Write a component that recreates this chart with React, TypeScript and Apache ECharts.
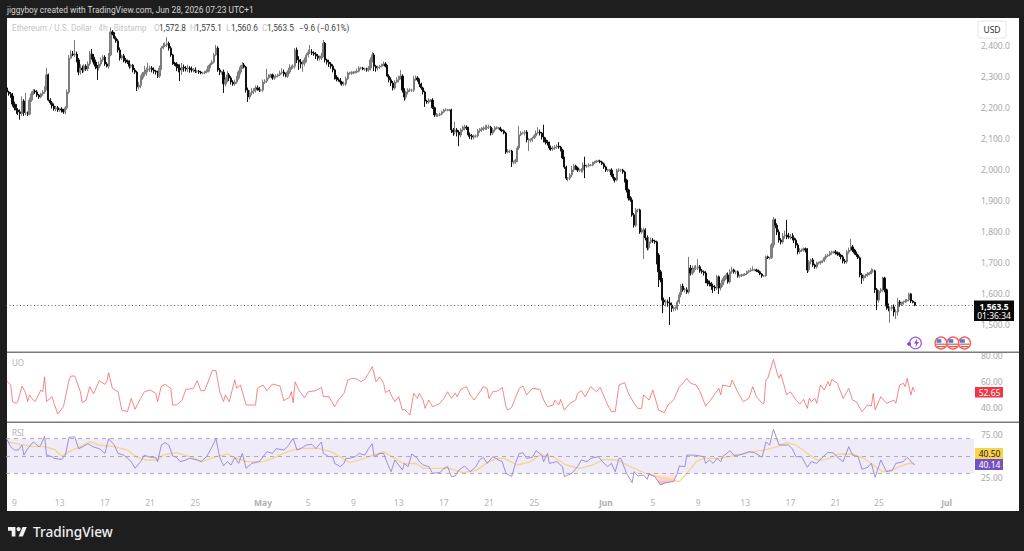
import React, { useEffect, useRef } from "react";
import * as echarts from "echarts";

const closes = [
2249,2243,2236,2210,2198,2191,2185,2180,2220,2182,2182,2178,2223,2243,2252,2249,2239,2233,2243,2249,
2262,2304,2223,2214,2204,2195,2198,2191,2194,2191,2185,2198,2249,2358,2371,2368,2371,2352,2313,2326,
2320,2332,2323,2339,2371,2361,2345,2332,2326,2339,2352,2361,2339,2332,2368,2442,2435,2422,2413,2384,
2358,2365,2352,2349,2345,2332,2335,2320,2313,2265,2271,2294,2307,2313,2320,2323,2326,2320,2316,2313,
2300,2326,2390,2397,2400,2405,2390,2368,2342,2339,2332,2326,2320,2329,2326,2323,2326,2323,2320,2320,
2316,2316,2313,2310,2310,2313,2316,2332,2339,2345,2368,2390,2320,2313,2313,2275,2288,2304,2294,2281,
2275,2281,2294,2313,2329,2336,2329,2255,2233,2246,2252,2255,2262,2259,2255,2255,2281,2284,2294,2300,
2304,2294,2297,2300,2304,2310,2313,2307,2300,2313,2326,2329,2332,2384,2352,2345,2339,2342,2352,2368,
2377,2377,2374,2371,2365,2358,2358,2365,2406,2352,2345,2339,2332,2320,2297,2291,2288,2281,2275,2275,
2291,2310,2310,2310,2313,2313,2316,2326,2326,2323,2323,2320,2326,2352,2368,2332,2326,2329,2332,2336,
2339,2332,2300,2288,2278,2262,2281,2288,2297,2300,2255,2233,2249,2255,2255,2255,2291,2294,2288,2275,
2262,2249,2220,2217,2223,2223,2198,2175,2175,2175,2178,2185,2191,2191,2191,2191,2127,2120,2127,2120,
2111,2127,2133,2136,2133,2111,2108,2104,2108,2108,2124,2127,2130,2133,2133,2136,2136,2117,2127,2133,
2133,2133,2127,2124,2117,2056,2059,2059,2024,2024,2030,2069,2111,2117,2117,2120,2095,2095,2095,2101,
2108,2117,2120,2117,2104,2095,2088,2085,2069,2066,2069,2072,2075,2072,2062,2037,2008,1972,1972,1982,
1998,2011,2005,1998,1998,1998,2014,2011,2011,2014,2014,2021,2024,2027,2027,2024,2018,2008,1998,1998,
1998,1982,1972,1966,1998,1998,1998,1992,1966,1934,1908,1902,1854,1821,1870,1870,1799,1805,1805,1780,
1748,1767,1773,1770,1767,1725,1671,1645,1580,1574,1574,1571,1564,1554,1554,1554,1574,1597,1625,1613,
1613,1606,1683,1667,1677,1683,1683,1687,1674,1671,1667,1642,1635,1632,1625,1622,1619,1655,1619,1629,
1645,1655,1661,1639,1671,1677,1671,1671,1658,1658,1661,1661,1664,1671,1674,1677,1677,1677,1674,1671,
1664,1658,1658,1719,1716,1716,1757,1838,1821,1799,1773,1767,1786,1789,1786,1783,1783,1780,1773,1757,
1735,1741,1741,1745,1741,1677,1703,1709,1693,1687,1700,1700,1703,1706,1716,1722,1725,1732,1735,1735,
1732,1728,1725,1719,1706,1703,1735,1741,1751,1741,1732,1725,1716,1661,1651,1658,1661,1664,1667,1674,
1674,1613,1580,1609,1613,1651,1613,1561,1554,1554,1558,1542,1542,1574,1567,1571,1574,1577,1580,1600,
1577,1572.8,1563.5,
];

const firstOpen = 2262;

const upperWicks = [
6,4,6,10,8,12,6,8,15,6,64,4,8,8,6,6,6,4,4,6,
6,22,4,6,6,8,6,6,4,6,4,6,8,10,12,10,45,8,6,12,
8,6,6,8,10,16,10,8,4,8,8,6,6,6,6,14,6,6,6,6,
8,4,6,6,4,6,4,4,6,4,10,8,6,20,8,20,8,6,8,4,
4,8,6,10,8,20,6,6,4,4,6,6,12,14,8,6,10,6,8,6,
8,4,4,4,4,4,6,4,4,6,6,10,6,6,4,8,8,12,6,6,
6,8,6,6,6,9,6,4,8,8,10,6,8,8,6,4,8,6,30,6,
4,4,4,6,4,8,12,8,4,6,12,6,6,6,8,12,10,8,8,6,
8,23,10,6,6,6,8,10,10,4,4,8,6,6,4,6,4,6,4,8,
8,4,4,6,4,4,8,6,4,4,4,4,6,8,9,6,4,4,4,4,
8,6,4,6,8,6,6,8,4,20,6,6,4,6,6,4,10,8,6,4,
4,4,4,4,6,4,6,4,6,4,4,4,4,6,4,4,4,6,26,6,
6,6,8,8,6,4,8,6,4,4,6,6,6,6,10,8,8,4,6,6,
6,4,4,4,4,4,6,4,4,4,4,6,29,6,4,6,6,6,4,4,
6,8,16,8,4,40,8,6,4,8,6,6,6,13,4,4,4,4,4,6,
13,6,4,4,4,6,8,27,4,6,4,4,4,4,4,4,4,4,4,4,
4,6,4,4,4,6,4,4,4,4,4,6,8,6,6,4,4,6,8,6,
8,16,8,6,4,4,6,6,6,8,8,8,19,8,6,6,6,8,6,8,
6,8,36,10,14,8,10,25,6,6,4,6,6,8,6,8,6,6,4,6,
6,4,6,8,8,10,4,4,4,4,4,4,3,4,4,6,12,4,4,4,
4,3,3,4,4,3,6,9,4,6,8,6,10,14,49,10,10,12,8,6,
6,6,4,4,4,6,6,4,6,4,4,4,4,4,4,6,4,6,4,4,
6,4,6,4,6,6,6,8,26,6,4,4,4,4,6,4,4,6,4,8,
6,4,6,4,6,4,4,4,8,6,6,8,8,13,6,4,4,6,4,4,
3,3,2.3,
];

const lowerWicks = [
4,6,6,8,8,12,10,20,8,10,8,6,4,6,4,6,6,6,4,6,
6,8,4,6,8,6,8,6,6,8,6,8,6,6,4,4,6,8,10,8,
10,8,6,6,6,8,8,10,38,8,8,6,6,4,8,4,4,4,6,8,
8,6,8,8,6,8,6,8,6,13,8,10,6,8,12,8,10,8,8,8,
6,6,6,4,4,6,8,6,6,6,16,14,36,16,12,8,10,12,8,8,
6,6,6,4,4,4,4,4,6,4,4,4,6,10,8,29,8,8,10,8,
6,6,6,6,8,6,4,8,16,8,8,10,8,6,6,4,6,6,6,4,
4,6,6,4,4,4,4,8,4,6,6,6,6,8,10,25,14,25,10,8,
8,6,6,6,10,8,8,6,4,8,8,10,8,8,8,8,6,8,6,6,
6,4,6,6,4,4,4,4,4,4,6,6,6,8,8,16,12,8,6,4,
4,4,4,8,10,8,6,4,8,8,8,12,8,8,6,6,6,6,6,10,
6,8,19,6,6,6,4,6,6,6,4,4,4,4,4,4,10,12,8,14,
36,8,6,8,6,6,10,8,8,6,6,6,6,6,6,6,6,8,6,6,
4,4,4,4,4,6,4,6,16,8,6,6,6,4,4,8,8,36,8,6,
4,6,4,8,8,8,8,8,6,6,6,6,6,6,4,4,6,6,10,6,
6,6,6,6,6,8,8,39,6,4,4,4,3,3,3,4,4,6,6,6,
6,6,8,8,4,6,6,6,8,8,8,6,6,8,6,8,6,6,93,8,
8,6,6,6,6,30,49,8,42,10,14,12,64,12,10,8,6,6,8,6,
8,6,6,8,6,6,6,6,6,6,8,8,10,8,12,19,10,6,19,8,
6,6,8,6,6,6,6,8,6,6,4,4,3,3,4,4,4,4,4,4,
4,6,4,3,4,6,4,8,10,10,8,8,6,8,10,6,8,8,10,10,
8,6,6,6,8,10,6,8,6,6,6,6,6,4,4,6,4,4,6,6,
6,6,6,8,8,6,6,6,4,6,6,6,4,8,19,10,6,6,4,4,
6,10,32,8,6,6,8,12,10,47,8,14,23,12,8,6,6,4,4,4,
6,3,2.9,
];

const uoPoints = [
[0,60.7],[2,57.7],[3,44.9],[5,43.6],[6,46.1],[8,56.9],[10,51.3],[11,44.9],[12,50],[14,46],[15,45],[18,53.8],[19,52.5],[20,64],[21,45],[24,48.7],[25,43.6],[27,35.4],[30,41],[33,61.5],[34,64.6],[36,64.6],[39,52.5],[40,44],[42,46],[44,56.4],[46,50.8],[49,61],[52,58.2],[53,60.2],[54,67.2],[56,55.1],[59,52.5],[61,38.4],[64,37.2],[66,47.4],[68,39],[71,47.4],[73,52.5],[76,53.8],[79,51.3],[80,44.9],[82,56.9],[84,58.2],[87,55.1],[88,42.3],[90,42.3],[93,46.1],[95,54.3],[99,55.1],[101,61],[103,53.3],[105,53.3],[109,68.7],[111,68.7],[113,52.5],[115,44.9],[116,50],[118,44.9],[121,61.5],[122,55.1],[124,57.7],[127,42.3],[132,42.3],[133,55.1],[136,57.7],[138,53.3],[141,58.4],[145,56.9],[147,45.6],[150,48.2],[151,52.5],[152,44],[153,60.2],[155,53.8],[158,47.9],[160,52.5],[164,53.3],[167,55.9],[168,48.7],[171,48.7],[174,41],[176,46.1],
[179,51.3],[181,61.5],[183,62.8],[186,62.3],[188,60.2],[190,62],[192,66.6],[194,71.8],[196,60.2],[198,64],[200,59],[201,51.8],[203,53.8],[204,50],[206,44.9],[208,48.7],[210,38.4],[211,39],[214,34.6],[216,51.3],[218,47.4],[219,51.3],[221,46.1],[222,39.7],[224,46.1],[226,41],[230,43.6],[232,47.4],[234,52.5],[236,47.4],[238,51.3],[239,48.7],[241,54.3],[244,56.4],[246,50],[248,46.1],[250,50],[253,56.4],[255,55.1],[256,47.4],[258,52.5],[261,53.3],[263,55.9],[265,41],[266,38.4],[268,40.5],[272,55.1],[274,56.9],[276,50],[279,55.1],[283,54.3],[285,46.1],[287,41],[290,42.3],[291,46.1],[293,42.3],[294,46.6],[296,38.4],[299,43.6],[302,46.1],[303,51.3],[305,53.3],[307,48.7],[310,56.4],[313,52.5],[315,55.9],[319,42.3],[321,37.2],[323,37.2],[325,57.7],[328,59.5],[330,51.3],[333,43.6],[335,39.7],[337,39.7],[338,50],[341,46.1],[343,53.8],[346,38.4],[349,36.4],[351,42.3],[354,46.1],
[357,56.4],[359,59],[361,62.8],[363,59],[366,57.7],[368,52.5],[371,41.5],[373,44.9],[378,55.1],[379,50],[380,57.7],[384,56.4],[385,61.5],[388,52.5],[391,44.9],[394,47.4],[396,56.4],[398,48.7],[401,43.6],[402,43.6],[403,61.5],[404,62.8],[407,77.4],[409,66.6],[410,62.8],[411,66.1],[414,50],[416,52.5],[419,46.1],[421,43],[423,46.6],[425,39.7],[426,47.4],[427,44.9],[429,47.4],[430,43.6],[432,57.7],[434,53.8],[436,60.2],[437,56.9],[438,62],[441,59],[444,47.4],[447,55.1],[449,46.1],[451,44.9],[454,37.2],[457,42.3],[459,41.5],[460,51.3],[461,38.4],[464,48.7],[467,43.6],[471,46.1],[472,43.6],[474,57.7],[476,59],[477,56.4],[478,62.8],[480,50],[481,55.9],[482,52.65],
];

const rsiPoints = [
[0,69.2],[2,60.8],[4,56.9],[6,56.9],[8,62.7],[9,51],[11,58.5],[14,66.2],[17,60.8],[18,62.7],[20,73],[21,51],[24,49.2],[25,47.3],[29,46.1],[31,51],[33,71.5],[36,72.3],[38,58.5],[40,60.4],[43,64.2],[46,60.4],[49,58.5],[50,56.9],[52,53],[54,70],[57,62.7],[59,53],[62,51],[64,47.3],[66,43.5],[68,35.8],[71,43.5],[73,51],[76,48.5],[79,48.5],[80,43.5],[82,62.7],[84,65.4],[86,62.7],[88,50],[90,48.5],[92,43.5],[95,45.4],[97,47.3],[101,45.4],[103,43.5],[106,49.2],[109,60.8],[111,70],[113,48.5],[115,38.5],[117,43.5],[119,39.6],[121,48.5],[123,41.5],[125,53],[127,35.8],[130,41.5],[134,43.5],[136,49.2],[138,54.9],[141,53],[143,58.5],[147,56.9],[149,60.8],[152,70.4],[154,56.9],[156,58.5],[159,62.7],[162,63.5],[164,58.5],[167,66.2],[168,53],[171,49.2],[173,49.2],[174,41.5],
[177,37.7],[179,41.5],[180,47.3],[182,47.3],[185,49.2],[187,53],[190,51],[192,58.5],[194,64.2],[195,49.2],[198,53],[200,53],[202,41.5],[204,31.9],[206,45.4],[208,39.6],[210,33.8],[211,41.5],[213,37.7],[215,52.3],[218,47.3],[219,43.5],[221,39.6],[224,37.7],[226,30],[230,30.8],[232,35.8],[234,37.7],[236,26.2],[238,26.9],[240,33.8],[243,38.5],[246,31.9],[249,37.7],[251,45.4],[253,48.5],[255,41.5],[258,49.2],[261,45.4],[263,43.5],[265,30],[268,26.2],[270,41.5],[272,53],[274,53.8],[276,47.3],[279,48.5],[281,56.1],[284,51],[285,43.5],[287,53],[288,41.5],[292,43.5],[295,37.7],[296,26.2],[300,30],[303,37.7],[305,45.4],[308,43.5],[310,47.3],[314,49.2],[317,41.5],[319,37.7],[321,41.5],[323,31.9],[325,47.3],[326,47.3],[329,30],[332,19.2],[333,31.9],[335,26.9],[338,28.1],[340,23.1],[341,29.2],[344,26.2],[347,16.5],[350,19.2],[354,20.4],[356,30],
[357,38.5],[360,37.7],[361,51],[363,51],[365,51],[368,50],[370,49.2],[371,41.5],[373,45.4],[375,41.5],[377,47.3],[379,43.5],[380,49.2],[384,56.1],[386,51],[389,51],[394,54.9],[397,53.8],[401,48.5],[403,66.2],[405,62.7],[407,80.8],[409,68.5],[410,62.7],[415,62.7],[417,58.5],[419,49.2],[422,49.2],[425,36.9],[427,43.5],[430,41.5],[433,48.5],[436,54.2],[439,53.5],[441,48.5],[444,43.5],[447,60.8],[449,51],[452,49.2],[454,34.6],[457,36.9],[459,41.5],[461,25.4],[464,45.4],[467,32],[470,33.1],[472,41.5],[476,43.5],[478,48.5],[481,41.5],[482,40.14],
];

const rsiMaPoints = [
[0,66.5],[7,63.4],[14,60.8],[20,60.8],[25,57.7],[29,50],[33,55],[39,60.8],[44,66.5],[49,62.7],[57,60.8],[64,56.9],[69,48.5],[74,45.4],[80,45.4],[83,51.2],[90,53.8],[97,49.2],[104,43.5],[111,49.2],[117,52.3],[120,49.2],[127,43.5],[136,43.5],[141,47.3],[149,55],[156,58.8],[165,58.8],[172,55],[177,49.2],
[182,42.3],[187,45.4],[195,51.2],[200,55],[206,47.3],[211,40.8],[217,41.5],[221,35.8],[228,35.8],[235,35.8],[242,30.8],[249,33.1],[256,43.5],[260,47.3],[264,47.3],[271,39.6],[278,43.5],[283,51.2],[290,49.2],[297,39.6],[304,35.8],[311,39.6],[317,46.2],[324,45.4],[331,37.7],[340,29.2],[347,25.4],[357,20.4],
[361,30],[366,43.5],[370,47.3],[379,47.3],[388,51.2],[396,55],[402,56.9],[409,60.8],[414,65.8],[419,62.7],[425,53],[430,45.4],[435,46.2],[442,52.3],[449,52.3],[455,47.3],[460,39.6],[465,31.9],[471,34.6],[474,37.7],[479,41.5],[482,40.5],
];

const timeLabels: [number, string][] = [
[4,"9"],[28,"13"],[52,"17"],[76,"21"],[100,"25"],[136,"May"],[160,"5"],[184,"9"],[208,"13"],[232,"17"],[256,"21"],[280,"25"],[318,"Jun"],[343,"5"],[367,"9"],[392,"13"],[416,"17"],[440,"21"],[463,"25"],[499,"Jul"],
];

const priceTicks = [1500,1600,1700,1800,1900,2000,2100,2200,2300,2400];
const uoTicks = [40,60,80];
const rsiTicks = [25,75];
const rsiLevels = [70,50,30];
const lastPrice = 1563.5;

const BAR_SLOTS = 514;
const FONT = '"Noto Sans", sans-serif';
const HEAD_FONT = 'Roboto, sans-serif';

echarts.graphic.registerShape("tvlogo", echarts.graphic.extendPath("M14 22H7V11H0V4h14v18zM28 22h-8l7.5-18h8L28 22z", {}));
echarts.graphic.registerShape("bolt", echarts.graphic.extendPath("M3 0L0 5h2.2L1.2 9L5 3.6H2.8L3 0z", {}));

const txt = (text: string, x: number, y: number, fill: string, size = 8.5, weight = "normal", align = "left", family = FONT) => ({
  type: "text" as const,
  z: 20,
  style: { text, x, y, fill, align, verticalAlign: "middle", font: `${weight} ${size}px ${family}` },
});
const head = (text: string, x: number, y: number, fill: string, size = 8.2) => txt(text, x, y, fill, size, "normal", "left", HEAD_FONT);

const tag = (x: number, y: number, w: number, h: number, fill: string) => ({
  type: "rect" as const, z: 18, shape: { x, y, width: w, height: h }, style: { fill },
});

const flag = (cx: number, cy: number) => ({
  type: "group" as const,
  z: 20,
  children: [
    { type: "circle", shape: { cx, cy, r: 6 }, style: { fill: "#ffffff", stroke: "#f0635f", lineWidth: 1.4 } },
    { type: "rect", shape: { x: cx - 5, y: cy + 0.6, width: 10, height: 1.2 }, style: { fill: "#ef5350" } },
    { type: "rect", shape: { x: cx - 4, y: cy + 3, width: 8, height: 1.2 }, style: { fill: "#ef5350" } },
    { type: "rect", shape: { x: cx - 4.5, y: cy - 3.8, width: 4.8, height: 3.6 }, style: { fill: "#4f7fd0" } },
  ],
});

export default function App() {
  const ref = useRef<HTMLDivElement>(null);
  useEffect(() => {
    if (!ref.current) return;
    const chart = echarts.init(ref.current, undefined, { renderer: "svg" });
    const categories = Array.from({ length: BAR_SLOTS }, (_, i) => String(i));
    const candles = closes.map((c, i) => {
      const o = i === 0 ? firstOpen : closes[i - 1];
      const high = Math.max(o, c) + (upperWicks[i] ?? 0);
      const low = Math.min(o, c) - (lowerWicks[i] ?? 0);
      return [o, c, low, high];
    });
    const labelMap = new Map(timeLabels);
    const oversold = rsiPoints.filter(([i]) => i >= 339 && i <= 356).map(([i, v]) => [i, Math.min(v, 30)]);
    const baseX = { type: "category" as const, data: categories, boundaryGap: true, axisLine: { show: false }, axisTick: { show: false }, splitLine: { show: false } };
    const yBase = {
      type: "value" as const, position: "right" as const, scale: true,
      axisLine: { show: false }, axisTick: { show: false }, splitLine: { show: false },
    };
    const option: any = {
      animation: false,
      backgroundColor: "#1e1e1e",
      textStyle: { fontFamily: FONT },
      grid: [
        { left: 6, width: 968, top: 18, height: 334 },
        { left: 6, width: 968, top: 353, height: 68 },
        { left: 6, width: 968, top: 423, height: 67 },
      ],
      xAxis: [
        { ...baseX, gridIndex: 0, axisLabel: { show: false } },
        { ...baseX, gridIndex: 1, axisLabel: { show: false } },
        {
          ...baseX, gridIndex: 2,
          axisLabel: {
            show: true, margin: 8, fontSize: 8.5, color: "#b4b4b4", fontFamily: FONT,
            interval: (i: number) => labelMap.has(i),
            formatter: (_: string, i: number) => {
              const s = labelMap.get(i) ?? "";
              return /[A-Z]/.test(s) ? `{b|${s}}` : s;
            },
            rich: { b: { fontSize: 8.5, fontWeight: "bold", color: "#b0b0b0", fontFamily: FONT } },
          },
        },
      ],
      yAxis: [
        {
          ...yBase, gridIndex: 0, min: 1413.2, max: 2486.8,
          axisLabel: {
            customValues: priceTicks, margin: 7, fontSize: 8.5, color: "#a8a8a8", fontFamily: FONT,
            formatter: (v: number) => v.toLocaleString("en-US", { minimumFractionDigits: 1, maximumFractionDigits: 1 }),
          },
        },
        {
          ...yBase, gridIndex: 1, min: 30, max: 82.3,
          axisLabel: { customValues: uoTicks, margin: 7, fontSize: 8.5, color: "#a8a8a8", fontFamily: FONT, formatter: (v: number) => v.toFixed(2) },
        },
        {
          ...yBase, gridIndex: 2, min: 10.7, max: 88.15,
          axisLabel: { customValues: rsiTicks, margin: 7, fontSize: 8.5, color: "#a8a8a8", fontFamily: FONT, formatter: (v: number) => v.toFixed(2) },
        },
      ],
      series: [
        {
          type: "candlestick", xAxisIndex: 0, yAxisIndex: 0, data: candles, barWidth: 1.7,
          itemStyle: { color: "#888888", color0: "#000000", borderColor: "#7c7c7c", borderColor0: "#111111", borderWidth: 1 },
          markLine: {
            silent: true, symbol: "none", label: { show: false },
            lineStyle: { type: [1, 2.5], color: "#555555", width: 0.9 },
            data: [{ yAxis: lastPrice }],
          },
        },
        { type: "line", xAxisIndex: 1, yAxisIndex: 1, data: uoPoints, showSymbol: false, lineStyle: { color: "#f2686b", width: 0.8 } },
        {
          type: "line", xAxisIndex: 2, yAxisIndex: 2, data: oversold, showSymbol: false, lineStyle: { width: 0 },
          areaStyle: {
            origin: 30,
            color: new echarts.graphic.LinearGradient(0, 0, 0, 1, [
              { offset: 0, color: "rgba(255,190,170,0.35)" },
              { offset: 1, color: "rgba(242,80,90,0.7)" },
            ]),
          },
        },
        {
          type: "line", xAxisIndex: 2, yAxisIndex: 2, data: rsiMaPoints, showSymbol: false, smooth: false,
          lineStyle: { color: "#f2d690", width: 1.3 }, z: 3,
        },
        {
          type: "line", xAxisIndex: 2, yAxisIndex: 2, data: rsiPoints, showSymbol: false,
          lineStyle: { color: "#8a78cc", width: 0.8 }, z: 4,
          markArea: {
            silent: true, itemStyle: { color: "rgba(126,87,194,0.12)" },
            data: [[{ yAxis: 30 }, { yAxis: 70 }]],
          },
          markLine: {
            silent: true, symbol: "none", label: { show: false },
            lineStyle: { type: [4, 4], color: "#9a9aa8", width: 0.8 },
            data: rsiLevels.map((v) => ({ yAxis: v })),
          },
        },
      ],
      graphic: [
        { type: "rect", z: -100, shape: { x: 7, y: 18, width: 1012, height: 493 }, style: { fill: "#ffffff" } },
        { type: "rect", z: 10, shape: { x: 7, y: 351.6, width: 1012, height: 1.4 }, style: { fill: "#7a7a7a" } },
        { type: "rect", z: 10, shape: { x: 7, y: 421.6, width: 1012, height: 1.4 }, style: { fill: "#7a7a7a" } },
        head("jiggyboy created with TradingView.com, Jun 28, 2026 07:23 UTC+1", 7, 9.5, "#d4d4d4", 8.4),
        head("Ethereum / U.S. Dollar · 4h · Bitstamp", 12, 27.5, "#c4c4c4"),
        head("O", 154, 27.5, "#c4c4c4"), head("1,572.8", 159, 27.5, "#3c3c3c"),
        head("H", 190, 27.5, "#c4c4c4"), head("1,575.1", 195, 27.5, "#3c3c3c"),
        head("L", 226, 27.5, "#c4c4c4"), head("1,560.6", 231, 27.5, "#3c3c3c"),
        head("C", 262, 27.5, "#c4c4c4"), head("1,563.5", 267, 27.5, "#3c3c3c"),
        head("−9.6 (−0.61%)", 299, 27.5, "#3c3c3c"),
        { type: "rect", z: 15, shape: { x: 978, y: 21, width: 28, height: 17, r: 2 }, style: { fill: "#ffffff", stroke: "#e6e6e6", lineWidth: 1 } },
        txt("USD", 992, 29.5, "#333333", 8.5, "normal", "center"),
        txt("UO", 12, 362, "#b4b4b4", 8),
        txt("RSI", 12, 432, "#b4b4b4", 8),
        tag(974, 300.5, 40, 20.5, "#0a0a0a"),
        txt("1,563.5", 994, 306, "#ffffff", 8.5, "bold", "center"),
        txt("01:36:34", 994, 315.5, "#ffffff", 8.5, "normal", "center"),
        tag(975, 387, 28, 10.5, "#f23645"),
        txt("52.65", 989.5, 392.5, "#ffffff", 8.5, "normal", "center"),
        tag(975, 448, 28, 11, "#f7d44c"),
        txt("40.50", 989.5, 453.7, "#1a1a1a", 8.5, "normal", "center"),
        tag(975, 459, 28, 11, "#7352c0"),
        txt("40.14", 989.5, 464.7, "#ffffff", 8.5, "normal", "center"),
        { type: "circle", z: 20, shape: { cx: 915.5, cy: 343, r: 5.8 }, style: { fill: "#ffffff", stroke: "#9b5fd6", lineWidth: 1.2 } },
        { type: "bolt", z: 21, x: 914, y: 338.5, style: { fill: "#8e4fcf" } },
        { type: "rect", z: 21, rotation: Math.PI / 4, x: 909, y: 344, shape: { x: -1.6, y: -1.6, width: 3.2, height: 3.2 }, style: { fill: "#7a45d0" } },
        flag(941, 343), flag(953, 343), flag(964.5, 343),
        { type: "tvlogo", z: 20, x: 8, y: 524.9, scaleX: 0.53, scaleY: 0.53, style: { fill: "#f0f0f0" } },
        { type: "circle", z: 20, shape: { cx: 18.6, cy: 529.1, r: 2.1 }, style: { fill: "#f0f0f0" } },
        txt("TradingView", 33, 531, "#f0f0f0", 13.6, "500"),
      ],
    };
    chart.setOption(option);
    return () => chart.dispose();
  }, []);
  return <div ref={ref} style={{ position: "fixed", left: 0, top: 0, width: 1024, height: 551 }} />;
}
